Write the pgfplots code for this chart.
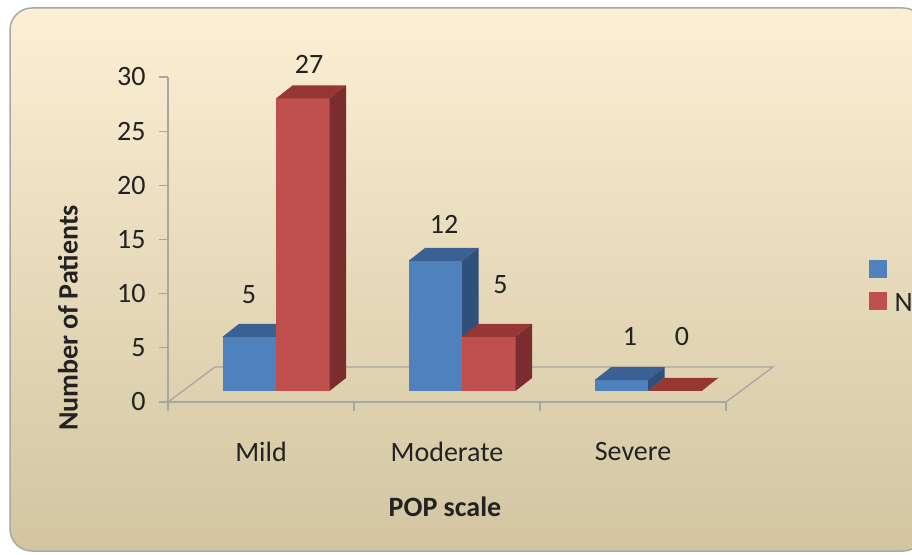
\documentclass[border=0pt]{standalone}
\usepackage{pgfplots}
\usepackage{pgfplotstable}
\pgfplotsset{compat=1.18}
\usepackage{fontspec}
\setmainfont{Carlito}

\definecolor{blueF}{HTML}{4F81BD}
\definecolor{blueT}{HTML}{3B6093}
\definecolor{blueS}{HTML}{30507C}
\definecolor{redF}{HTML}{C0504D}
\definecolor{redT}{HTML}{963734}
\definecolor{redS}{HTML}{7B2D2D}
\definecolor{axgray}{HTML}{A6A6A6}
\definecolor{txt}{HTML}{222222}
\definecolor{bgtop}{HTML}{FCEFD4}
\definecolor{bgmid}{HTML}{F3ECD6}
\definecolor{bgbot}{HTML}{D2C5A0}
\definecolor{border}{HTML}{A8A8A8}

\newcommand\fs{\fontsize{28}{33.6}\selectfont}

% 3-D column: front face, top face and right side, drawn from the data point.
% #1 = left edge of the front face relative to the category centre.
\newcommand\cuboid[4]{%
  \pgfmathsetlengthmacro\cubh{\val*10.8333pt}%
  \pgfsetfillcolor{#2}%
  \pgfpathrectangle{\pgfpoint{#1}{11pt-\cubh}}{\pgfpoint{53.5pt}{\cubh}}%
  \pgfusepath{fill}%
  \pgfsetfillcolor{#3}%
  \pgfpathmoveto{\pgfpoint{#1}{11pt}}%
  \pgfpathlineto{\pgfpoint{#1+53.5pt}{11pt}}%
  \pgfpathlineto{\pgfpoint{#1+70pt}{24pt}}%
  \pgfpathlineto{\pgfpoint{#1+16.5pt}{24pt}}%
  \pgfpathclose\pgfusepath{fill}%
  \pgfsetfillcolor{#4}%
  \pgfpathmoveto{\pgfpoint{#1+53.5pt}{11pt-\cubh}}%
  \pgfpathlineto{\pgfpoint{#1+70pt}{24pt-\cubh}}%
  \pgfpathlineto{\pgfpoint{#1+70pt}{24pt}}%
  \pgfpathlineto{\pgfpoint{#1+53.5pt}{11pt}}%
  \pgfpathclose\pgfusepath{fill}%
}
\pgfdeclareplotmark{cubeA}{\cuboid{-38.5pt}{blueF}{blueT}{blueS}}
\pgfdeclareplotmark{cubeB}{\cuboid{15pt}{redF}{redT}{redS}}

% x = category (Mild, Moderate, Severe), v = number of patients
\pgfplotstableread{
x   v
0.5 5
1.5 12
2.5 1
}\tblA
\pgfplotstableread{
x   v
0.5 27
1.5 5
2.5 0
}\tblB

\begin{document}
\begin{tikzpicture}
\useasboundingbox (0,0) rectangle (912pt,554pt);
\clip (0,0) rectangle (912pt,554pt);
\fill[white] (0,0) rectangle (912pt,554pt);
\shade[top color=bgtop, middle color=bgmid, bottom color=bgbot, rounded corners=22pt]
  (10pt,3pt) rectangle (925pt,546pt);
\draw[border, line width=1.5pt, rounded corners=22pt] (10pt,3pt) rectangle (925pt,546pt);

\begin{axis}[
  at={(168pt,152pt)}, anchor=origin,
  x=186pt, y=10.8333pt,
  xmin=0, xmax=3, ymin=0, ymax=30,
  enlargelimits=false, clip=false,
  axis x line*=bottom, axis y line*=left,
  axis line style={draw=axgray, line width=1.3pt},
  xtick={0,1,2,3}, xticklabels={},
  ytick={0,5,...,30},
  tick align=outside, major tick length=9pt,
  tick style={draw=axgray, line width=1.3pt},
  extra x ticks={0.5,1.5,2.5},
  extra x tick labels={Mild,Moderate,Severe},
  extra x tick style={major tick length=0pt,
    xticklabel style={anchor=center, yshift=-50pt}},
  /pgf/number format/assume math mode=true,
  tick label style={font=\fs, text=txt},
  yticklabel style={xshift=-10pt},
  xlabel={POP scale}, ylabel={Number of Patients},
  xlabel style={at={(rel axis cs:0.4964,-0.323)}, anchor=center, font=\fs\bfseries, text=txt},
  ylabel style={at={(rel axis cs:-0.1792,0.2585)}, anchor=center, font=\fs\bfseries, text=txt},
  legend style={at={(rel axis cs:1.2508,0.4584)}, anchor=north west, draw=none, fill=none,
    font=\fs, text=txt, nodes={inner sep=1pt}, row sep=4.5pt,
    /tikz/every odd column/.append style={column sep=7pt}},
  legend cell align=left,
  nodes near coords style={font=\fs, text=txt, anchor=center},
  val/.style={forget plot, draw=none, mark=none, nodes near coords,
    every node near coord/.append style={#1}},
]
% floor of the 3-D plot
\draw[axgray, line width=1.3pt] (axis cs:0,0) -- ++(47pt,35pt)
  -- ([shift={(47pt,35pt)}]axis cs:3,0) -- (axis cs:3,0);

\addplot[forget plot, scatter, only marks, mark=cubeA,
  visualization depends on={rawy \as \val}] table[x=x, y=v] {\tblA};
\addplot[forget plot, scatter, only marks, mark=cubeB,
  visualization depends on={rawy \as \val}] table[x=x, y=v] {\tblB};

% value labels
\addplot[val={xshift=-12pt, yshift=52.8pt}] coordinates {(0.5,5)};
\addplot[val={xshift=-3pt, yshift=48pt}] coordinates {(1.5,12)};
\addplot[val={xshift=-3pt, yshift=54.7pt}] coordinates {(2.5,1)};
\addplot[val={xshift=48pt, yshift=45.5pt}] coordinates {(0.5,27)};
\addplot[val={xshift=53.5pt, yshift=62.8pt}] coordinates {(1.5,5)};
\addplot[val={xshift=49pt, yshift=65pt}] coordinates {(2.5,0)};

\addlegendimage{legend image code/.code={\fill[blueF] (0pt,-8.5pt) rectangle (17pt,8.5pt);}}
\addlegendentry{\strut}
\addlegendimage{legend image code/.code={\fill[redF] (0pt,-8.5pt) rectangle (17pt,8.5pt);}}
\addlegendentry{\strut N}
\end{axis}
\end{tikzpicture}
\end{document}
